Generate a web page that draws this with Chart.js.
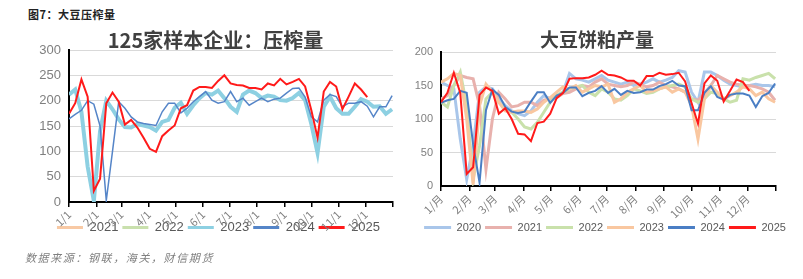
<!DOCTYPE html>
<html>
<head>
<meta charset="utf-8">
<script src="https://cdn.jsdelivr.net/npm/chart.js@4"></script>
<style>
  body { margin: 0; width: 803px; height: 279px; background: #fff; position: relative; overflow: hidden; font-family: "Noto Sans CJK SC", sans-serif; }
  #cap { position: absolute; left: 28px; top: 6px; font-size: 11px; font-weight: bold; color: #222; letter-spacing: 0.5px; }
  #src { position: absolute; left: 25px; top: 249px; font-size: 11px; font-style: italic; color: #7f7f7f; letter-spacing: 1.6px; }
  #crush { position: absolute; left: 0; top: 0; }
  #meal { position: absolute; left: 400px; top: 0; }
</style>
</head>
<body>
<div id="cap">图7：大豆压榨量</div>
<canvas id="crush" width="430" height="264"></canvas>
<canvas id="meal" width="403" height="248"></canvas>
<div id="src">数据来源：钢联，海关，财信期货</div>

<script>
// 月初所在的天数（x轴刻度位置）
const monthStart = [0, 31, 59, 90, 120, 151, 181, 212, 243, 273, 304, 334, 365];
const crushMonths = ['1/1', '2/1', '3/1', '4/1', '5/1', '6/1', '7/1', '8/1', '9/1', '10/1', '11/1', '12/1'];
const mealMonths = ['1/月', '2/月', '3/月', '4/月', '5/月', '6/月', '7/月', '8/月', '9/月', '10/月', '11/月', '12/月'];

// 左图：125家样本企业压榨量（周度）
const crushYears = ['2021', '2022', '2023', '2024', '2025'];
const crush2021 = [];
const crush2022 = [];
const crush2023 = [212, 222, 178, 70, 2, 140, 200, 183, 163, 148, 147, 154, 151, 148, 141, 158, 162, 186, 196, 174,
  191, 205, 215, 212, 220, 205, 188, 178, 212, 220, 215, 205, 210, 208, 201, 200, 205, 215, 201, 154,
  97, 188, 208, 185, 174, 174, 188, 203, 198, 188, 189, 174, 183];
const crush2024 = [164, 173, 181, 200, 193, 150, 3, 100, 198, 185, 168, 158, 155, 153, 151, 178, 195, 195, 176, 185,
  198, 208, 218, 201, 195, 198, 218, 198, 205, 191, 198, 205, 198, 203, 205, 215, 224, 225, 207, 168,
  158, 201, 212, 208, 188, 195, 195, 198, 189, 168, 188, 188, 210];
const crush2025 = [174, 195, 242, 208, 22, 46, 195, 216, 198, 153, 162, 147, 127, 105, 99, 130, 141, 151, 185, 191,
  220, 227, 227, 225, 239, 250, 234, 231, 230, 225, 225, 222, 234, 230, 243, 232, 237, 243, 228, 181,
  127, 218, 237, 228, 183, 208, 234, 222, 207];

// 右图：大豆饼粕产量（周度）
const mealYears = ['2020', '2021', '2022', '2023', '2024', '2025'];
const meal2020 = [155, 150, 145, 70, 10, 60, 140, 148, 145, 130, 120, 112, 108, 105, 112, 125, 135, 130, 135, 140,
  168, 160, 158, 155, 160, 165, 158, 155, 152, 155, 150, 152, 155, 160, 155, 158, 162, 172, 170, 140,
  125, 170, 170, 165, 158, 152, 150, 148, 150, 152, 150, 150, 148];
const meal2021 = [130, 135, 150, 165, 162, 160, 120, 25, 100, 140, 130, 118, 120, 125, 125, 120, 128, 130, 132, 138,
  140, 145, 150, 148, 155, 160, 152, 150, 148, 150, 155, 152, 148, 150, 155, 150, 148, 145, 140, 130,
  128, 138, 150, 165, 160, 155, 152, 150, 150, 148, 145, 140, 128];
const meal2022 = [125, 118, 150, 170, 120, 10, 60, 130, 140, 125, 115, 110, 100, 88, 85, 95, 110, 125, 135, 140,
  145, 148, 150, 140, 135, 145, 140, 130, 128, 135, 145, 142, 138, 140, 145, 148, 150, 152, 148, 130,
  125, 130, 140, 138, 130, 125, 128, 160, 158, 162, 165, 168, 160];
const meal2023 = [155, 160, 168, 165, 100, 2, 120, 152, 140, 125, 112, 110, 112, 112, 110, 115, 125, 132, 140, 148,
  145, 150, 140, 145, 150, 148, 152, 125, 130, 140, 145, 150, 140, 142, 145, 148, 140, 145, 140, 120,
  70, 130, 150, 140, 130, 135, 140, 148, 145, 135, 140, 130, 125];
const meal2024 = [124, 128, 130, 142, 139, 62, 5, 113, 144, 136, 118, 111, 109, 111, 126, 140, 140, 124, 135, 139,
  147, 147, 134, 139, 142, 149, 139, 145, 136, 142, 139, 140, 144, 144, 149, 152, 157, 150, 149, 113,
  113, 139, 149, 133, 129, 136, 138, 138, 135, 118, 134, 139, 153];
const meal2025 = [125, 139, 169, 139, 18, 28, 136, 147, 142, 108, 116, 100, 78, 77, 67, 94, 96, 108, 131, 139,
  160, 161, 161, 162, 166, 172, 166, 165, 162, 157, 157, 150, 164, 164, 169, 166, 167, 169, 156, 124,
  93, 153, 165, 157, 126, 142, 159, 155, 142];

// 周序号 -> 年内天数
function toPoints(arr) {
  return arr.map((v, i) => ({ x: i * 7, y: v }));
}

function line(label, arr, color, width, order) {
  return {
    label: label,
    data: toPoints(arr),
    borderColor: color,
    backgroundColor: color,
    borderWidth: width,
    pointRadius: 0,
    tension: 0,
    order: order
  };
}

// 原图的图例压在x轴标签上，标题也略偏右：布局完成后挪一下
function nudge(titleDx, legendDx, legendDy) {
  return {
    id: 'nudge',
    afterLayout(chart) {
      const t = chart.titleBlock, l = chart.legend;
      t.left += titleDx; t.right += titleDx;
      l.left += legendDx; l.right += legendDx;
      l.top += legendDy; l.bottom += legendDy;
    }
  };
}

function legendLabels(size, boxW) {
  return {
    color: '#595959',
    font: { size: size, family: 'Liberation Sans' },
    boxWidth: boxW,
    boxHeight: 3,
    padding: 4,
    generateLabels(chart) {
      const items = Chart.defaults.plugins.legend.labels.generateLabels(chart);
      items.forEach(it => { it.fillStyle = it.strokeStyle; it.lineWidth = 0; });
      return items;
    },
    sort: (a, b) => a.datasetIndex - b.datasetIndex
  };
}

function xAxis(labels, height, fontSize) {
  return {
    type: 'linear',
    min: 0,
    max: 365,
    afterBuildTicks(scale) {
      scale.ticks = monthStart.map(v => ({ value: v }));
    },
    afterFit(scale) { scale.height = height; },
    ticks: {
      autoSkip: false,
      minRotation: 45,
      maxRotation: 45,
      padding: 1,
      color: '#7f7f7f',
      font: { size: fontSize, family: 'Noto Sans CJK SC' },
      callback: (v, i) => labels[i] || ''
    },
    grid: { drawOnChartArea: false, drawTicks: true, tickLength: 5, color: '#000', lineWidth: 1.5 },
    border: { color: '#000', width: 2 }
  };
}

function yAxis(max, width, fontSize) {
  return {
    min: 0,
    max: max,
    afterFit(scale) { scale.width = width; },
    ticks: { stepSize: 50, padding: 8, color: '#7f7f7f', font: { size: fontSize, family: 'Liberation Sans' } },
    grid: { color: '#d9d9d9', drawTicks: false, lineWidth: 1 },
    border: { color: '#000', width: 2 }
  };
}

new Chart(document.getElementById('crush'), {
  type: 'line',
  data: {
    datasets: [
      line(crushYears[0], crush2021, '#f8c9a4', 3, 5),
      line(crushYears[1], crush2022, '#c9e0ad', 3, 4),
      line(crushYears[2], crush2023, '#8dd0e2', 4, 3),
      line(crushYears[3], crush2024, '#5585c8', 1.5, 2),
      line(crushYears[4], crush2025, '#ff1a1a', 2, 1)
    ]
  },
  options: {
    responsive: false,
    animation: false,
    layout: { padding: { top: 30, right: 37, left: 0, bottom: 0 } },
    plugins: {
      title: {
        display: true,
        text: '125家样本企业：压榨量',
        color: '#404040',
        font: { size: 20, weight: 'bold', family: 'Noto Sans CJK SC', lineHeight: 1 },
        padding: { top: 0, bottom: 0 }
      },
      legend: { position: 'bottom', labels: legendLabels(13, 26) },
      tooltip: { enabled: false }
    },
    scales: {
      x: xAxis(crushMonths, 35, 11),
      y: yAxis(300, 69, 13)
    }
  },
  plugins: [nudge(19, 22, -20)]
});

new Chart(document.getElementById('meal'), {
  type: 'line',
  data: {
    datasets: [
      line(mealYears[0], meal2020, '#a9c6ea', 3, 6),
      line(mealYears[1], meal2021, '#e8b1ad', 3, 5),
      line(mealYears[2], meal2022, '#c9e1ab', 3, 4),
      line(mealYears[3], meal2023, '#f9c7a0', 3, 3),
      line(mealYears[4], meal2024, '#4a7ec4', 2, 2),
      line(mealYears[5], meal2025, '#ff1a1a', 2, 1)
    ]
  },
  options: {
    responsive: false,
    animation: false,
    layout: { padding: { top: 30, right: 27, left: 0, bottom: 0 } },
    plugins: {
      title: {
        display: true,
        text: '大豆饼粕产量',
        color: '#404040',
        font: { size: 19, weight: 'bold', family: 'Noto Sans CJK SC', lineHeight: 1 },
        padding: { top: 0, bottom: 3 }
      },
      legend: { position: 'bottom', labels: legendLabels(11, 27) },
      tooltip: { enabled: false }
    },
    scales: {
      x: xAxis(mealMonths, 37, 11),
      y: yAxis(200, 41, 11)
    }
  },
  plugins: [nudge(9, 17, -5)]
});
</script>
</body>
</html>
